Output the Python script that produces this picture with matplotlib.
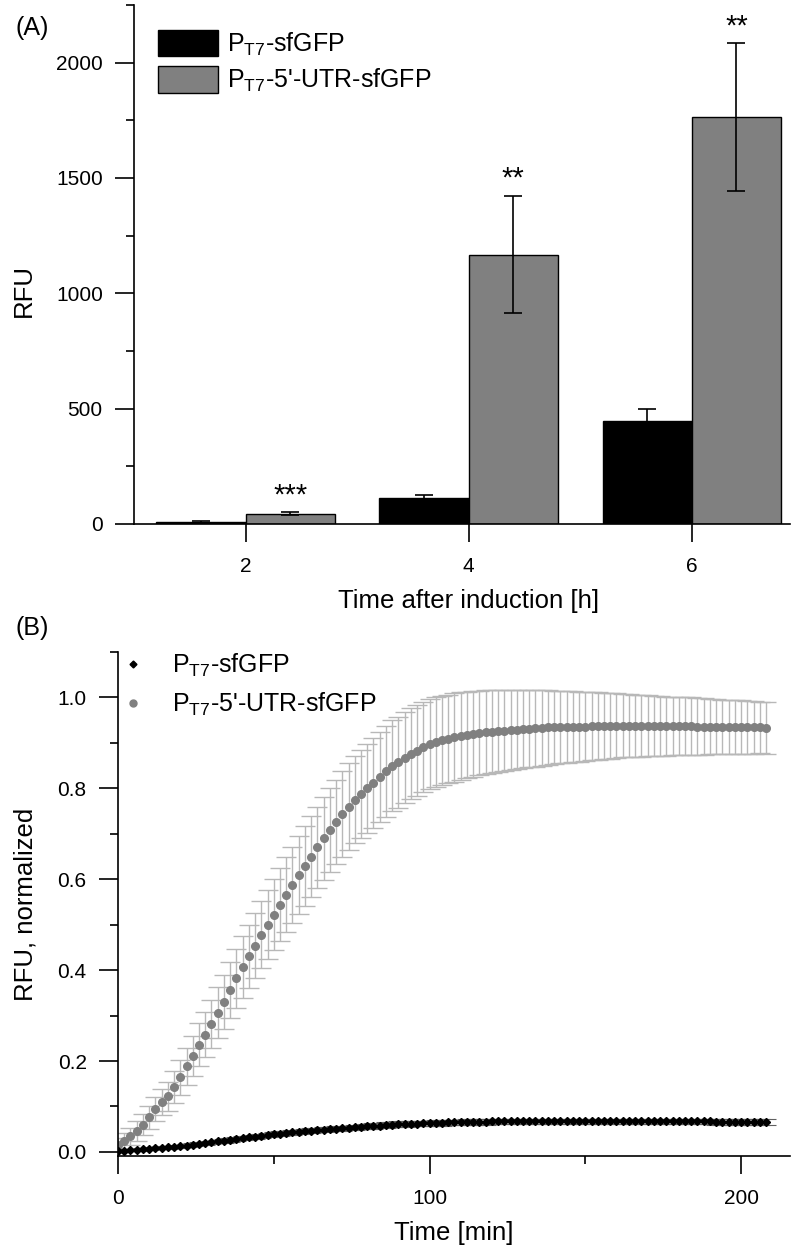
import numpy as np
import matplotlib
matplotlib.use('Agg')
import matplotlib.pyplot as plt
from matplotlib.ticker import MultipleLocator
from matplotlib.lines import Line2D

plt.rcParams['font.family'] = 'Liberation Sans'
plt.rcParams['mathtext.fontset'] = 'custom'
plt.rcParams['mathtext.rm'] = 'Liberation Sans'
plt.rcParams['mathtext.it'] = 'Liberation Sans:italic'

# panel A: RFU after induction
hours = [2, 4, 6]
sfgfp = [10, 112, 445]
sfgfp_err = [4, 12, 55]
utr = [45, 1168, 1765]
utr_err = [5, 255, 320]
stars = ['***', '**', '**']

# panel B: normalized RFU over time
time_min = [0, 2, 4, 6, 8, 10, 12, 14, 16, 18,
            20, 22, 24, 26, 28, 30, 32, 34, 36, 38,
            40, 42, 44, 46, 48, 50, 52, 54, 56, 58,
            60, 62, 64, 66, 68, 70, 72, 74, 76, 78,
            80, 82, 84, 86, 88, 90, 92, 94, 96, 98,
            100, 102, 104, 106, 108, 110, 112, 114, 116, 118,
            120, 122, 124, 126, 128, 130, 132, 134, 136, 138,
            140, 142, 144, 146, 148, 150, 152, 154, 156, 158,
            160, 162, 164, 166, 168, 170, 172, 174, 176, 178,
            180, 182, 184, 186, 188, 190, 192, 194, 196, 198,
            200, 202, 204, 206, 208]
utr_norm = [0.015, 0.024, 0.034, 0.046, 0.060, 0.076, 0.094, 0.110, 0.122, 0.142,
            0.164, 0.188, 0.212, 0.236, 0.258, 0.282, 0.306, 0.330, 0.356, 0.382,
            0.406, 0.430, 0.454, 0.478, 0.500, 0.522, 0.544, 0.566, 0.588, 0.610,
            0.630, 0.650, 0.670, 0.690, 0.708, 0.726, 0.744, 0.760, 0.775, 0.788,
            0.800, 0.812, 0.826, 0.838, 0.850, 0.857, 0.867, 0.876, 0.883, 0.890,
            0.897, 0.902, 0.906, 0.909, 0.912, 0.915, 0.918, 0.920, 0.922, 0.924,
            0.925, 0.926, 0.927, 0.928, 0.929, 0.930, 0.931, 0.932, 0.933, 0.934,
            0.934, 0.935, 0.935, 0.936, 0.936, 0.936, 0.937, 0.937, 0.937, 0.937,
            0.938, 0.938, 0.938, 0.938, 0.938, 0.938, 0.938, 0.938, 0.937, 0.937,
            0.937, 0.937, 0.937, 0.936, 0.936, 0.936, 0.936, 0.935, 0.935, 0.935,
            0.935, 0.934, 0.934, 0.934, 0.933]
utr_norm_err = [0.015, 0.017, 0.019, 0.021, 0.023, 0.025, 0.027, 0.029, 0.032, 0.035,
                0.038, 0.041, 0.044, 0.047, 0.050, 0.053, 0.056, 0.059, 0.062, 0.065,
                0.068, 0.070, 0.072, 0.074, 0.076, 0.078, 0.080, 0.082, 0.084, 0.086,
                0.088, 0.089, 0.090, 0.091, 0.092, 0.093, 0.094, 0.095, 0.096, 0.097,
                0.098, 0.099, 0.099, 0.100, 0.100, 0.100, 0.100, 0.100, 0.100, 0.099,
                0.099, 0.098, 0.098, 0.097, 0.097, 0.096, 0.095, 0.094, 0.093, 0.092,
                0.091, 0.090, 0.089, 0.088, 0.087, 0.086, 0.085, 0.084, 0.083, 0.082,
                0.081, 0.080, 0.079, 0.078, 0.077, 0.076, 0.075, 0.074, 0.073, 0.072,
                0.071, 0.070, 0.069, 0.068, 0.068, 0.067, 0.066, 0.066, 0.065, 0.064,
                0.064, 0.063, 0.063, 0.062, 0.062, 0.061, 0.061, 0.060, 0.060, 0.059,
                0.059, 0.058, 0.058, 0.057, 0.057]
sfgfp_norm = [0.002, 0.003, 0.004, 0.005, 0.006, 0.007, 0.008, 0.009, 0.010, 0.011,
              0.012, 0.014, 0.016, 0.018, 0.019, 0.021, 0.023, 0.024, 0.026, 0.028,
              0.030, 0.032, 0.033, 0.035, 0.037, 0.039, 0.040, 0.042, 0.043, 0.044,
              0.046, 0.047, 0.048, 0.049, 0.050, 0.051, 0.052, 0.053, 0.054, 0.055,
              0.056, 0.057, 0.058, 0.059, 0.060, 0.061, 0.061, 0.062, 0.062, 0.063,
              0.063, 0.064, 0.064, 0.065, 0.065, 0.065, 0.066, 0.066, 0.066, 0.066,
              0.067, 0.067, 0.067, 0.067, 0.067, 0.067, 0.067, 0.067, 0.067, 0.067,
              0.067, 0.067, 0.067, 0.067, 0.067, 0.067, 0.067, 0.067, 0.067, 0.067,
              0.067, 0.067, 0.067, 0.067, 0.067, 0.067, 0.067, 0.067, 0.067, 0.067,
              0.067, 0.067, 0.067, 0.067, 0.067, 0.067, 0.066, 0.066, 0.066, 0.066,
              0.066, 0.066, 0.066, 0.066, 0.066]
sfgfp_norm_err = [0.002, 0.002, 0.002, 0.002, 0.002, 0.002, 0.002, 0.003, 0.003, 0.003,
                  0.003, 0.003, 0.003, 0.003, 0.003, 0.003, 0.004, 0.004, 0.004, 0.004,
                  0.004, 0.004, 0.004, 0.004, 0.004, 0.004, 0.005, 0.005, 0.005, 0.005,
                  0.005, 0.005, 0.005, 0.005, 0.005, 0.005, 0.005, 0.005, 0.005, 0.005,
                  0.006, 0.006, 0.006, 0.006, 0.006, 0.006, 0.006, 0.006, 0.006, 0.006,
                  0.006, 0.006, 0.006, 0.006, 0.006, 0.006, 0.006, 0.006, 0.006, 0.006,
                  0.006, 0.006, 0.006, 0.006, 0.006, 0.006, 0.006, 0.006, 0.006, 0.006,
                  0.006, 0.006, 0.006, 0.006, 0.006, 0.006, 0.006, 0.006, 0.006, 0.006,
                  0.006, 0.006, 0.006, 0.006, 0.006, 0.006, 0.006, 0.006, 0.006, 0.006,
                  0.006, 0.006, 0.006, 0.006, 0.006, 0.006, 0.006, 0.006, 0.006, 0.006,
                  0.006, 0.006, 0.006, 0.006, 0.006]

label_a = 'P$_{\\mathrm{T7}}$-sfGFP'
label_b = 'P$_{\\mathrm{T7}}$-5\'-UTR-sfGFP'
grey = '#808080'

fig = plt.figure(figsize=(7.93, 12.58), dpi=100)

# ---- panel A ----
ax1 = fig.add_axes([0.169, 0.5835, 0.8272, 0.4126])
x = np.array(hours, dtype=float)
ax1.bar(x, sfgfp, width=-0.8, align='edge', color='black', edgecolor='black',
        linewidth=1, label=label_a)
ax1.bar(x, utr, width=0.8, align='edge', color=grey, edgecolor='black',
        linewidth=1, label=label_b)
ax1.errorbar(x - 0.4, sfgfp, yerr=sfgfp_err, fmt='none', ecolor='black',
             elinewidth=1.2, capsize=6.5, capthick=1.2)
ax1.errorbar(x + 0.4, utr, yerr=utr_err, fmt='none', ecolor='black',
             elinewidth=1.2, capsize=6.5, capthick=1.2)
for xi, v, e, s in zip(x, utr, utr_err, stars):
    ax1.annotate(s, (xi + 0.4, v + e), xytext=(0, 2), textcoords='offset points',
                 ha='center', va='bottom', fontsize=21)

ax1.set_xlim(1.0, 6.88)
ax1.set_ylim(0, 2250)
ax1.set_xticks(hours)
ax1.yaxis.set_major_locator(MultipleLocator(500))
ax1.yaxis.set_minor_locator(MultipleLocator(250))
ax1.set_xlabel('Time after induction [h]', fontsize=18.5)
ax1.set_ylabel('RFU', fontsize=18.5)
ax1.xaxis.set_label_coords(0.51, -0.125)
ax1.yaxis.set_label_coords(-0.15, 0.45)
ax1.legend(loc='upper left', bbox_to_anchor=(0.037, 0.952), frameon=False,
           fontsize=18, handlelength=2.4, handleheight=1.25, handletextpad=0.36,
           labelspacing=0.35, borderaxespad=0, borderpad=0)

# ---- panel B ----
ax2 = fig.add_axes([0.1488, 0.0811, 0.8474, 0.4006])
ax2.errorbar(time_min, utr_norm, yerr=utr_norm_err, fmt='o', color=grey, ms=5.5,
             mec=grey, ecolor='#b8b8b8', elinewidth=1, capsize=7, capthick=1,
             zorder=2)
ax2.errorbar(time_min, sfgfp_norm, yerr=sfgfp_norm_err, fmt='D', color='black',
             ms=3.8, ecolor='#606060', elinewidth=0.8, capsize=7, capthick=0.8,
             zorder=3)
ax2.set_xlim(0, 215.7)
ax2.set_ylim(-0.009, 1.1)
ax2.xaxis.set_major_locator(MultipleLocator(100))
ax2.xaxis.set_minor_locator(MultipleLocator(50))
ax2.yaxis.set_minor_locator(MultipleLocator(0.1))
ax2.set_yticks([0, 0.2, 0.4, 0.6, 0.8, 1.0])
ax2.set_yticklabels(['0.0', '0.2', '0.4', '0.6', '0.8', '1.0'])
ax2.set_xlabel('Time [min]', fontsize=18.5)
ax2.set_ylabel('RFU, normalized', fontsize=18.5)
ax2.xaxis.set_label_coords(0.50, -0.13)
ax2.yaxis.set_label_coords(-0.12, 0.5)
handles = [Line2D([], [], ls='none', marker='D', ms=3.5, color='black'),
           Line2D([], [], ls='none', marker='o', ms=5, color=grey)]
ax2.legend(handles, [label_a, label_b], loc='upper left', bbox_to_anchor=(0.003, 1.0),
           frameon=False, fontsize=18, handlelength=1.0, handletextpad=1.08,
           labelspacing=0.45, borderaxespad=0, borderpad=0)

for ax in (ax1, ax2):
    ax.spines['top'].set_visible(False)
    ax.spines['right'].set_visible(False)
    for sp in ('left', 'bottom'):
        ax.spines[sp].set_linewidth(1.2)
    ax.tick_params(which='major', direction='out', width=1.2, labelsize=15)
    ax.tick_params(which='minor', direction='out', length=6, width=1.2)
    ax.tick_params(axis='x', which='major', length=13, pad=11)
    ax.tick_params(axis='y', which='major', length=14, pad=8.5)

fig.text(0.019, 0.978, '(A)', fontsize=18, ha='left', va='center')
fig.text(0.019, 0.501, '(B)', fontsize=18, ha='left', va='center')

fig.savefig('out.png', dpi=100)
